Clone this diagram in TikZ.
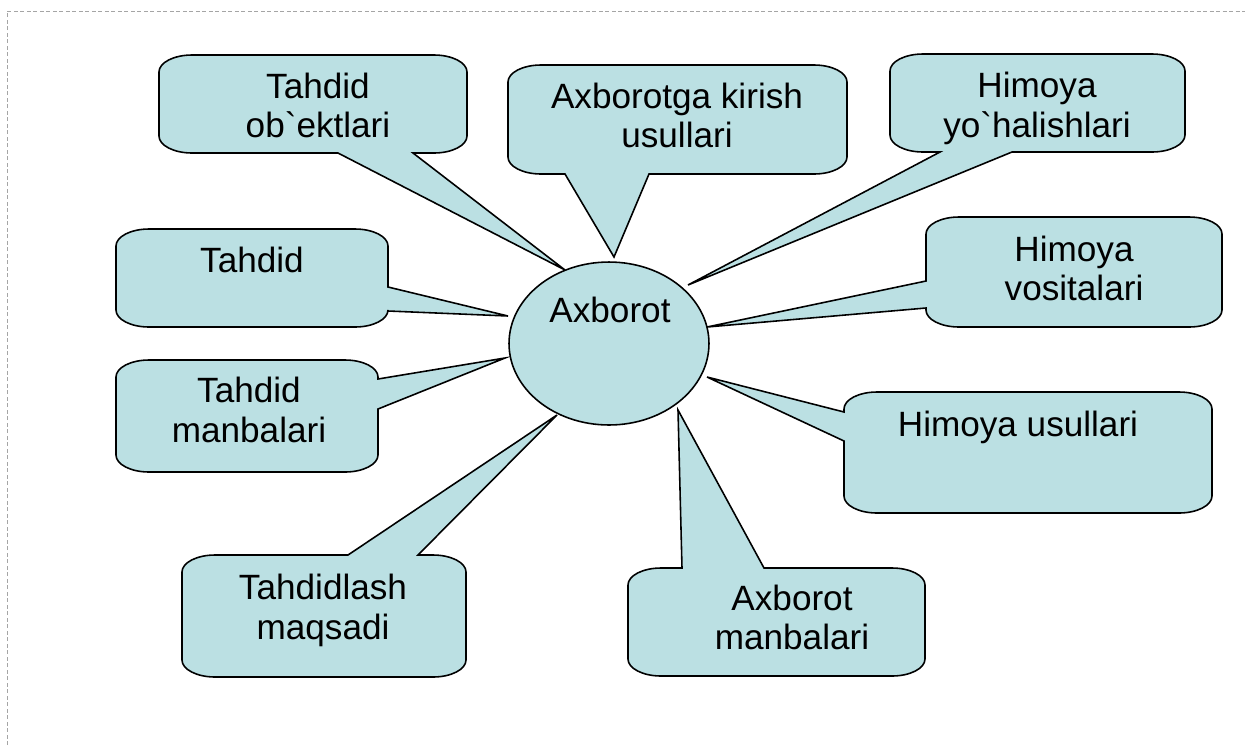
\documentclass[tikz,border=0pt]{standalone}
\usepackage{fontspec}
\setmainfont{Liberation Sans}[Ligatures=TeXOff]
\usetikzlibrary{shapes.geometric}
\definecolor{calloutfill}{RGB}{187,224,227}
\definecolor{framegray}{RGB}{165,165,165}

% corner radii of the rounded callout boxes and the Bezier constant for a quarter ellipse
\newcommand{\crx}{33}
\newcommand{\cry}{17}
\newcommand{\ck}{0.5523}

% rounded box (#1,#2)-(#3,#4) with optional wedge segments on the
% top (#5), right (#6), bottom (#7) and left (#8) edges
\newcommand{\callout}[8]{%
  \draw[calloutshape]
  ({#1+\crx},#2) #5 -- ({#3-\crx},#2)
  .. controls ({#3-\crx+\ck*\crx},#2) and (#3,{#2+\cry-\ck*\cry}) .. (#3,{#2+\cry})
  #6 -- (#3,{#4-\cry})
  .. controls (#3,{#4-\cry+\ck*\cry}) and ({#3-\crx+\ck*\crx},#4) .. ({#3-\crx},#4)
  #7 -- ({#1+\crx},#4)
  .. controls ({#1+\crx-\ck*\crx},#4) and (#1,{#4-\cry+\ck*\cry}) .. (#1,{#4-\cry})
  #8 -- (#1,{#2+\cry})
  .. controls (#1,{#2+\cry-\ck*\cry}) and ({#1+\crx-\ck*\crx},#2) .. ({#1+\crx},#2) -- cycle;}

\tikzset{
  calloutshape/.style={draw=black, fill=calloutfill, line width=0.9pt, line join=miter},
  hub/.style={ellipse, draw=black, fill=calloutfill, line width=0.9pt,
    minimum width=4cm, minimum height=3.26cm, inner sep=0pt},
  lbl/.style={align=center, inner sep=0pt, font=\fontsize{20}{22.6}\selectfont},
}

\begin{document}
\begin{tikzpicture}[x=0.02cm, y=-0.02cm]
\useasboundingbox (0,0) rectangle (1245,745);

% page frame
\draw[framegray, line width=0.5pt, dash pattern=on 0.08cm off 0.05cm] (7,745) -- (7,11) -- (1245,11);

% wedge tips around the central ellipse
\coordinate (tipTO) at (565,270);
\coordinate (tipAK) at (614,257);
\coordinate (tipHY) at (688,285);
\coordinate (tipT)  at (508,316);
\coordinate (tipTM) at (505,358);
\coordinate (tipTQ) at (557,415);
\coordinate (tipAM) at (678,410);
\coordinate (tipHV) at (707,327);
\coordinate (tipHU) at (707,377);

% callouts
\callout{159}{55}{467}{153}{}{}{-- (413,153) -- (tipTO) -- (338,153)}{}
\callout{508}{65}{847}{174}{}{}{-- (649,174) -- (tipAK) -- (565,174)}{}
\callout{890}{54}{1185}{152}{}{}{-- (1012,152) -- (tipHY) -- (940,152)}{}
\callout{116}{229}{388}{327}{}{-- (388,287) -- (tipT) -- (388,311)}{}{}
\callout{116}{360}{378}{472}{}{-- (378,379) -- (tipTM) -- (378,409)}{}{}
\callout{182}{555}{466}{677}{-- (348,555) -- (tipTQ) -- (418,555)}{}{}{}
\callout{628}{568}{925}{676}{-- (682,568) -- (tipAM) -- (764,568)}{}{}{}
\callout{926}{217}{1222}{327}{}{}{}{-- (926,308) -- (tipHV) -- (926,281)}
\callout{844}{392}{1212}{513}{}{}{}{-- (844,441) -- (tipHU) -- (844,412)}

% central ellipse
\node[hub] (axb) at (609,343.5) {};
\node[lbl] (axbl) at (610,315) {\strut Axborot};

% callout texts
\node[lbl] (tTO) at (318,110) {\strut Tahdid\\\strut ob\textasciigrave ektlari};
\node[lbl] (tAK) at (677,120) {\strut Axborotga kirish\\\strut usullari};
\node[lbl] (tHY) at (1037,109.5) {\strut Himoya\\\strut yo\textasciigrave halishlari};
\node[lbl] (tT)  at (252,265) {\strut Tahdid};
\node[lbl] (tTM) at (249,414.5) {\strut Tahdid\\\strut manbalari};
\node[lbl] (tTQ) at (323,611.5) {\strut Tahdidlash\\\strut maqsadi};
\node[lbl] (tAM) at (792,622) {\strut Axborot\\\strut manbalari};
\node[lbl] (tHV) at (1074,273) {\strut Himoya\\\strut vositalari};
\node[lbl] (tHU) at (1018,429) {\strut Himoya usullari};
\end{tikzpicture}
\end{document}
